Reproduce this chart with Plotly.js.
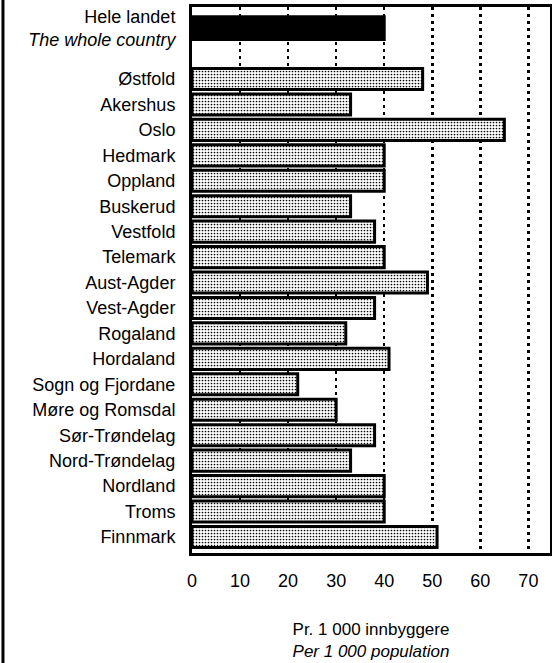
<!DOCTYPE html>
<html>
<head>
<meta charset="utf-8">
<script src="https://cdn.plot.ly/plotly-3.0.1.min.js"></script>
<style>
html,body{margin:0;padding:0;background:#fff;}
#chart{width:552px;height:663px;}
</style>
</head>
<body>
<div id="chart"></div>
<script>
// Data
const totalLabel = ["Hele landet<br><i>The whole country</i>"];
const totalValue = [40];
const countyLabels = [" ", "Østfold", "Akershus", "Oslo", "Hedmark", "Oppland", "Buskerud",
  "Vestfold", "Telemark", "Aust-Agder", "Vest-Agder", "Rogaland", "Hordaland",
  "Sogn og Fjordane", "Møre og Romsdal", "Sør-Trøndelag", "Nord-Trøndelag",
  "Nordland", "Troms", "Finnmark"];
const countyValues = [null, 48, 33, 65, 40, 40, 33, 38, 40, 49, 38, 32, 41, 22, 30, 38, 33, 40, 40, 51];
const xTickVals = [0, 10, 20, 30, 40, 50, 60, 70];

const font = {family: "Liberation Sans, Arial, Helvetica, sans-serif", size: 18, color: "#000"};
const titleFont = {family: "Liberation Sans, Arial, Helvetica, sans-serif", size: 17, color: "#000"};

const traces = [
  {
    type: "bar", orientation: "h",
    y: totalLabel, x: totalValue, width: 0.9,
    marker: {color: "#000", line: {color: "#000", width: 3}},
    hoverinfo: "skip"
  },
  {
    type: "bar", orientation: "h",
    y: countyLabels, x: countyValues, width: 0.83,
    marker: {
      color: "#fff",
      line: {color: "#000", width: 3},
      pattern: {shape: ".", fgcolor: "#000", bgcolor: "#fff", size: 3, solidity: 0.25}
    },
    hoverinfo: "skip"
  }
];

const layout = {
  width: 552, height: 663,
  margin: {l: 192, r: 2, t: 7, b: 110},
  paper_bgcolor: "#fff", plot_bgcolor: "#fff",
  showlegend: false,
  font: font,
  bargap: 0,
  xaxis: {
    range: [0, 74.5],
    tickvals: xTickVals,
    showgrid: true, gridcolor: "#000", gridwidth: 2.5, griddash: "3px,4px",
    zeroline: false,
    showline: true, linecolor: "#000", linewidth: 3, mirror: true,
    ticks: "", ticklabelstandoff: 9,
    tickfont: font,
    title: {text: "Pr. 1 000 innbyggere<br><i>Per 1 000 population</i>", font: titleFont, standoff: 34}
  },
  yaxis: {
    type: "category",
    categoryorder: "array",
    categoryarray: totalLabel.concat(countyLabels),
    range: [20.63, -0.83],
    showgrid: false, zeroline: false,
    showline: true, linecolor: "#000", linewidth: 3, mirror: true,
    ticks: "", ticklabelstandoff: 10,
    tickfont: font
  },
  shapes: [
    {type: "line", xref: "paper", yref: "paper", x0: -0.528, x1: -0.528, y0: -0.21, y1: 1.02,
     line: {color: "#000", width: 3}}
  ]
};

Plotly.newPlot("chart", traces, layout, {displayModeBar: false, staticPlot: true});
</script>
</body>
</html>
